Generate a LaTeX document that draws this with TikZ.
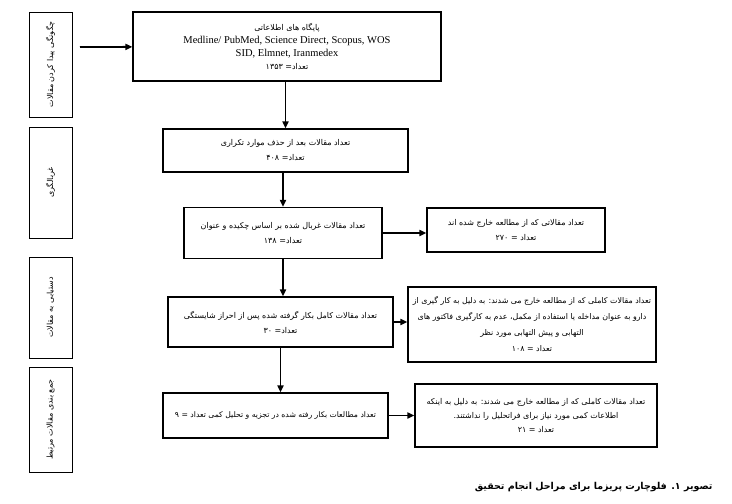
\documentclass[tikz,border=0pt]{standalone}
\usepackage{fontspec}
\setmainfont{Liberation Serif}
\newfontfamily\fa[Script=Arabic]{DejaVu Sans}
\TeXXeTstate=1
\usetikzlibrary{arrows.meta, positioning}

\newcommand{\fatext}[1]{{\fa\beginR #1\endR}}

\tikzset{
	box/.style={draw, line width=1.2pt, align=center, inner sep=2pt,
		font=\fa\fontsize{8}{15}\selectfont},
	side/.style={draw, line width=1pt, rotate=90, minimum height=43pt,
		inner sep=1pt, font=\fa\fontsize{8}{10}\selectfont},
	link/.style={->, line width=1.8pt},
}

\begin{document}
\begin{tikzpicture}[x=1pt, y=-1pt, >={Triangle[length=7pt, width=6pt]}]

	\useasboundingbox (0,0) rectangle (732,504);

	% stage labels
	\node[side, minimum width=105pt] (s1) at (50.5,64.5) {\fatext{چگونگی پیدا کردن مقالات}};
	\node[side, minimum width=111pt] (s2) at (50.5,182.5) {\fatext{غربالگری}};
	\node[side, minimum width=101pt] (s3) at (50.5,307.5) {\fatext{دستیابی به مقالات}};
	\node[side, minimum width=105pt] (s4) at (50.5,419.5) {\fatext{جمع بندی مقالات مرتبط}};

	% main column
	\node[box, minimum width=308pt, minimum height=69pt, font=\fa\fontsize{8}{13}\selectfont] (db) at (287,46.5)
		{\fatext{پایگاه های اطلاعاتی}\\
		{\rmfamily\fontsize{10.5}{13}\selectfont Medline/ PubMed, Science Direct, Scopus, WOS}\\
		{\rmfamily\fontsize{10.5}{13}\selectfont SID, Elmnet, Iranmedex}\\
		\fatext{تعداد= ۱۳۵۳}};
	\node[box, minimum width=245pt, minimum height=43pt] (dup) at (285.5,150.5)
		{\fatext{تعداد مقالات بعد از حذف موارد تکراری}\\\fatext{تعداد= ۴۰۸}};
	\node[box, minimum width=198pt, minimum height=51pt] (scr) at (283,233)
		{\fatext{تعداد مقالات غربال شده بر اساس چکیده و عنوان}\\\fatext{تعداد= ۱۳۸}};
	\node[box, minimum width=225pt, minimum height=50pt] (full) at (280.5,322)
		{\fatext{تعداد مقالات کامل بکار گرفته شده پس از احراز شایستگی}\\\fatext{تعداد= ۳۰}};
	\node[box, minimum width=225pt, minimum height=45pt, font=\fa\fontsize{7.7}{15}\selectfont] (incl) at (275.5,415.5)
		{\fatext{تعداد مطالعات بکار رفته شده در تجزیه و تحلیل کمی تعداد = ۹}};

	% excluded
	\node[box, minimum width=178pt, minimum height=44pt] (exa) at (516,230)
		{\fatext{تعداد مقالاتی که از مطالعه خارج شده اند}\\\fatext{تعداد = ۲۷۰}};
	\node[box, minimum width=248pt, minimum height=75pt, font=\fa\fontsize{7.9}{16}\selectfont] (exb) at (532,324.5)
		{\fatext{تعداد مقالات کاملی که از مطالعه خارج می شدند: به دلیل به کار گیری از}\\
		\fatext{دارو به عنوان مداخله یا استفاده از مکمل، عدم به کارگیری فاکتور های}\\
		\fatext{التهابی و پیش التهابی مورد نظر}\\
		\fatext{تعداد = ۱۰۸}};
	\node[box, minimum width=242pt, minimum height=63pt, font=\fa\fontsize{8}{14}\selectfont] (exc) at (536,415.5)
		{\fatext{تعداد مقالات کاملی که از مطالعه خارج می شدند: به دلیل به اینکه}\\
		\fatext{اطلاعات کمی مورد نیاز برای فراتحلیل را نداشتند.}\\
		\fatext{تعداد = ۲۱}};

	\coordinate (start) at (80,47);

	\path[link]
	(start) edge (db)
	(db.south -| dup.north) edge (dup.north)
	(dup.south -| scr.north) edge (scr.north)
	(scr.east) edge (scr.east -| exa.west)
	(scr.south) edge (scr.south |- full.north)
	(full.east) edge (full.east -| exb.west)
	(full.south) edge (full.south |- incl.north)
	(incl.east) edge (incl.east -| exc.west);

	\node[anchor=east, font=\fa\bfseries\fontsize{9.5}{11}\selectfont] (cap) at (716,487)
		{\fatext{تصویر ۱. فلوچارت پریزما برای مراحل انجام تحقیق}};

\end{tikzpicture}
\end{document}
